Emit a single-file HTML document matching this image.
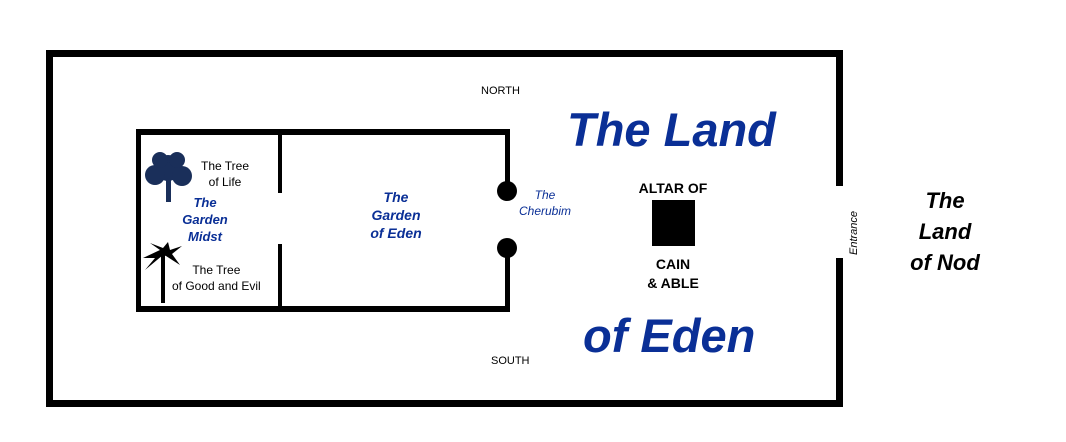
<!DOCTYPE html>
<html><head><style>
body{margin:0;width:1066px;height:442px;background:#fff;position:relative;overflow:hidden;font-family:"Liberation Sans",Arial,sans-serif}
.t{position:absolute;white-space:nowrap;line-height:1}
.b{color:#0a2f96;font-weight:bold;font-style:italic}
.c{text-align:center}
</style></head><body>
<svg width="1066" height="442" style="position:absolute;left:0;top:0">
<g fill="#000">
<rect x="46" y="50" width="797" height="7"/>
<rect x="46" y="400" width="797" height="7"/>
<rect x="46" y="50" width="7" height="357"/>
<rect x="836" y="50" width="7" height="136"/>
<rect x="836" y="258" width="7" height="149"/>
<rect x="136" y="129" width="374" height="6"/>
<rect x="136" y="306" width="374" height="6"/>
<rect x="136" y="129" width="5" height="183"/>
<rect x="278" y="129" width="4" height="64"/>
<rect x="278" y="244" width="4" height="68"/>
<rect x="505" y="129" width="5" height="62"/>
<rect x="505" y="248" width="5" height="64"/>
<circle cx="507" cy="191" r="10"/>
<circle cx="507" cy="248" r="10"/>
<rect x="652" y="200" width="43" height="46"/>
</g>
<g fill="#1a2f5a">
<circle cx="168" cy="168" r="13"/><circle cx="155" cy="175" r="10"/><circle cx="182" cy="176" r="10"/><circle cx="160" cy="160" r="8"/><circle cx="177" cy="160" r="8"/>
<rect x="166" y="178" width="5" height="24"/>
</g>
<g fill="#000">
<rect x="161" y="255" width="4" height="48"/>
<path d="M163 255 L145 270 L155 258 L143 258 L160 250 L150 243 L163 248 L168 242 L170 250 L182 246 L172 254 L180 265 L166 256 Z"/>
</g>
</svg>
<div class="t" style="left:481px;top:86px;font-size:11px">NORTH</div>
<div class="t" style="left:491px;top:356px;font-size:11px">SOUTH</div>
<div class="t b" style="left:567px;top:106px;font-size:47px">The Land</div>
<div class="t b" style="left:583px;top:312px;font-size:47px">of Eden</div>
<div class="t c" style="left:628px;top:181px;width:90px;font-size:14px;font-weight:bold">ALTAR OF</div>
<div class="t c" style="left:628px;top:255px;width:90px;font-size:14px;line-height:19px;font-weight:bold">CAIN<br>&amp; ABLE</div>
<div class="t c" style="left:900px;top:185px;width:90px;font-size:22px;line-height:31px;font-weight:bold;font-style:italic;color:#000">The<br>Land<br>of Nod</div>
<div class="t" style="left:849px;top:255px;font-size:11px;font-style:italic;transform:rotate(-90deg);transform-origin:0 0">Entrance</div>
<div class="t" style="left:201px;top:158px;font-size:12px;line-height:16px;text-align:center">The Tree<br>of Life</div>
<div class="t b c" style="left:165px;top:194px;width:80px;font-size:13px;line-height:17px">The<br>Garden<br>Midst</div>
<div class="t" style="left:172px;top:262px;font-size:12px;line-height:16px;text-align:center">The Tree<br>of Good and Evil</div>
<div class="t b c" style="left:346px;top:188px;width:100px;font-size:14px;line-height:18px">The<br>Garden<br>of Eden</div>
<div class="t" style="left:519px;top:187px;font-size:12px;line-height:16px;color:#0a2f96;font-style:italic;text-align:center">The<br>Cherubim</div>
</body></html>
